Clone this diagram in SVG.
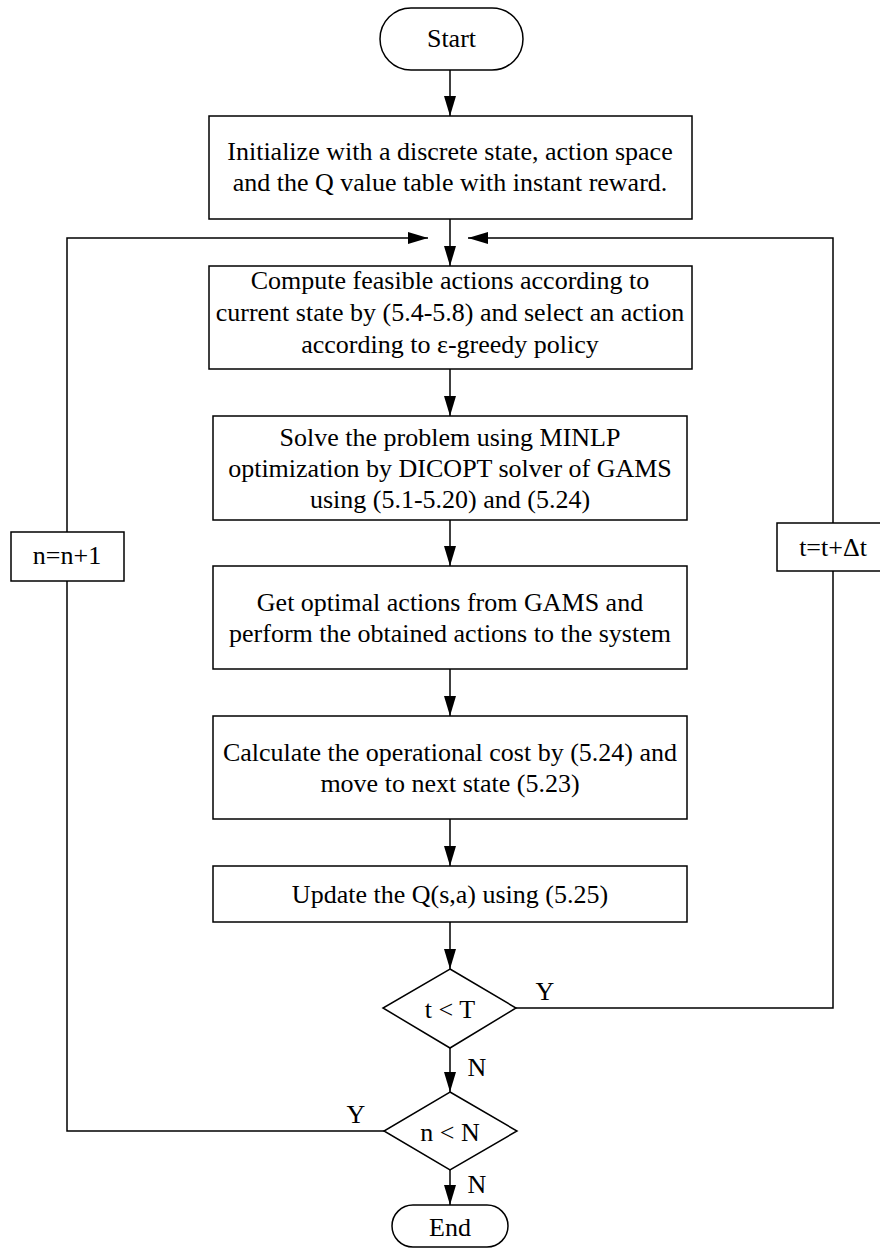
<svg xmlns="http://www.w3.org/2000/svg" width="880" height="1248" viewBox="0 0 880 1248">
<style>
.shape{fill:#fff;stroke:#000;stroke-width:1.5}
.conn{fill:none;stroke:#000;stroke-width:1.5}
text{font-family:"Liberation Serif","Times New Roman",serif;font-size:26px;fill:#000;text-anchor:middle}
</style>
<defs>
<marker id="ah" markerUnits="userSpaceOnUse" markerWidth="20" markerHeight="12" refX="20" refY="6" orient="auto"><path d="M0,0 L20,6 L0,12 z" fill="#000"/></marker>
</defs>
<rect width="880" height="1248" fill="#fff"/>
<g id="connectors">
<line class="conn" x1="450" y1="70" x2="450" y2="116" marker-end="url(#ah)"/>
<line class="conn" x1="450" y1="219" x2="450" y2="266" marker-end="url(#ah)"/>
<line class="conn" x1="450" y1="369" x2="450" y2="416" marker-end="url(#ah)"/>
<line class="conn" x1="450" y1="520" x2="450" y2="566" marker-end="url(#ah)"/>
<line class="conn" x1="450" y1="669" x2="450" y2="716" marker-end="url(#ah)"/>
<line class="conn" x1="450" y1="819" x2="450" y2="866" marker-end="url(#ah)"/>
<line class="conn" x1="450" y1="922" x2="450" y2="969" marker-end="url(#ah)"/>
<line class="conn" x1="450" y1="1048" x2="450" y2="1092" marker-end="url(#ah)"/>
<line class="conn" x1="450" y1="1170" x2="450" y2="1205" marker-end="url(#ah)"/>
<polyline class="conn" points="384,1131 67,1131 67,238 428,238" marker-end="url(#ah)"/>
<polyline class="conn" points="516,1008 833,1008 833,238 468,238" marker-end="url(#ah)"/>
</g>
<g id="start"><rect class="shape" x="380" y="8" width="143" height="62" rx="31" ry="31"/><text x="451.5" y="47">Start</text></g>
<g id="init"><rect class="shape" x="209" y="116" width="483" height="103"/><text x="450" y="160">Initialize with a discrete state, action space</text><text x="450" y="191">and the Q value table with instant reward.</text></g>
<g id="compute"><rect class="shape" x="209" y="266" width="483" height="103"/><text x="450" y="289">Compute feasible actions according to</text><text x="450" y="321">current state by (5.4-5.8) and select an action</text><text x="450" y="353">according to ε-greedy policy</text></g>
<g id="solve"><rect class="shape" x="213" y="416" width="474" height="104"/><text x="450" y="446">Solve the problem using MINLP</text><text x="450" y="477">optimization by DICOPT solver of GAMS</text><text x="450" y="508">using (5.1-5.20) and (5.24)</text></g>
<g id="get"><rect class="shape" x="213" y="566" width="474" height="103"/><text x="450" y="611">Get optimal actions from GAMS and</text><text x="450" y="642">perform the obtained actions to the system</text></g>
<g id="calc"><rect class="shape" x="213" y="716" width="474" height="103"/><text x="450" y="761">Calculate the operational cost by (5.24) and</text><text x="450" y="792">move to next state (5.23)</text></g>
<g id="update"><rect class="shape" x="213" y="866" width="474" height="56"/><text x="450" y="903">Update the Q(s,a) using (5.25)</text></g>
<g id="dec-t"><polygon class="shape" points="450,969 516,1008 450,1048 383,1008"/><text x="450" y="1018">t &lt; T</text></g>
<g id="dec-n"><polygon class="shape" points="450,1092 517,1131 450,1170 384,1131"/><text x="450" y="1141">n &lt; N</text></g>
<g id="end"><rect class="shape" x="392" y="1205" width="116" height="42" rx="21" ry="21"/><text x="450" y="1236">End</text></g>
<g id="n-inc"><rect class="shape" x="11" y="532" width="113" height="49"/><text x="67" y="564">n=n+1</text></g>
<g id="t-inc"><rect class="shape" x="777" y="523" width="112" height="48"/><text x="833" y="556">t=t+Δt</text></g>
<g id="labels">
<text x="545" y="1000">Y</text>
<text x="477" y="1076">N</text>
<text x="356" y="1123">Y</text>
<text x="477" y="1193">N</text>
</g>
</svg>
